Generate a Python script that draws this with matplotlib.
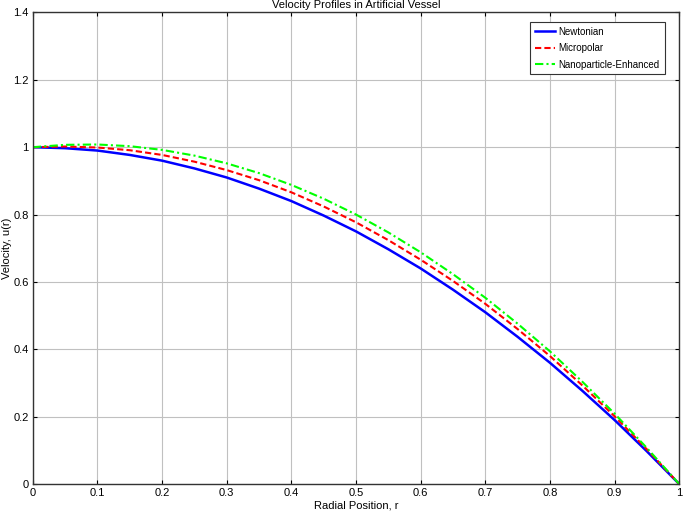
import matplotlib
matplotlib.use("Agg")
import matplotlib.pyplot as plt
from matplotlib import font_manager

# Data
r = [0.0, 0.05, 0.10, 0.15, 0.20, 0.25, 0.30, 0.35, 0.40, 0.45, 0.50,
     0.55, 0.60, 0.65, 0.70, 0.75, 0.80, 0.85, 0.90, 0.95, 1.0]
newtonian = [1.000, 0.997, 0.990, 0.977, 0.960, 0.937, 0.910, 0.877, 0.840, 0.797,
             0.750, 0.697, 0.640, 0.577, 0.510, 0.437, 0.360, 0.277, 0.190, 0.097, 0.0]
micropolar = [1.000, 1.002, 0.999, 0.991, 0.977, 0.957, 0.932, 0.902, 0.866, 0.824,
              0.777, 0.724, 0.666, 0.603, 0.535, 0.460, 0.380, 0.293, 0.201, 0.103, 0.0]
nano = [1.000, 1.007, 1.008, 1.003, 0.992, 0.975, 0.952, 0.923, 0.888, 0.847,
        0.800, 0.747, 0.688, 0.623, 0.553, 0.476, 0.394, 0.304, 0.209, 0.107, 0.0]

xticks = [0, 0.1, 0.2, 0.3, 0.4, 0.5, 0.6, 0.7, 0.8, 0.9, 1]
xticklabels = ["0", "0.1", "0.2", "0.3", "0.4", "0.5", "0.6", "0.7", "0.8", "0.9", "1"]
yticks = [0, 0.2, 0.4, 0.6, 0.8, 1.0, 1.2, 1.4]
yticklabels = ["0", "0.2", "0.4", "0.6", "0.8", "1", "1.2", "1.4"]

names = {f.name for f in font_manager.fontManager.ttflist}
fam = "Liberation Sans Narrow" if "Liberation Sans Narrow" in names else "Liberation Sans"
plt.rcParams["font.family"] = [fam, "DejaVu Sans"]

fig = plt.figure(figsize=(6.84, 5.19), dpi=100)
ax = fig.add_axes([0.048, 0.0674, 0.945, 0.9086])

ax.plot(r, newtonian, color="#0000ff", lw=1.8, label="Newtonian")
ax.plot(r, micropolar, color="#ff0000", lw=1.5, ls=(0, (3, 1.5)), label="Micropolar")
ax.plot(r, nano, color="#00ff00", lw=1.5, ls=(0, (4, 1.5, 1, 1.5)), label="Nanoparticle-Enhanced")

ax.set_xlim(0, 1)
ax.set_ylim(0, 1.4)
ax.set_xticks(xticks)
ax.set_xticklabels(xticklabels)
ax.set_yticks(yticks)
ax.set_yticklabels(yticklabels)
ax.grid(True, color="#c0c0c0", lw=0.8, ls="-")
ax.set_axisbelow(True)
ax.tick_params(direction="in", top=True, right=True, labelsize=8, length=3, width=0.8, pad=3)
for s in ax.spines.values():
    s.set_color("#333333")
    s.set_linewidth(1.0)

ax.set_xlabel("Radial Position, r", fontsize=8, labelpad=2)
ax.set_ylabel("Velocity, u(r)", fontsize=8)
ax.yaxis.set_label_coords(-0.032, 0.5)
ax.set_title("Velocity Profiles in Artificial Vessel", fontsize=8, pad=3)

leg = ax.legend(loc="upper right", fontsize=7, frameon=True, fancybox=False,
                edgecolor="#333333", framealpha=1, borderpad=0.5,
                handlelength=2.0, handletextpad=0.4,
                bbox_to_anchor=(0.985, 0.99), labelspacing=0.65)
leg.get_frame().set_linewidth(0.8)

fig.savefig("out.png", dpi=100)
